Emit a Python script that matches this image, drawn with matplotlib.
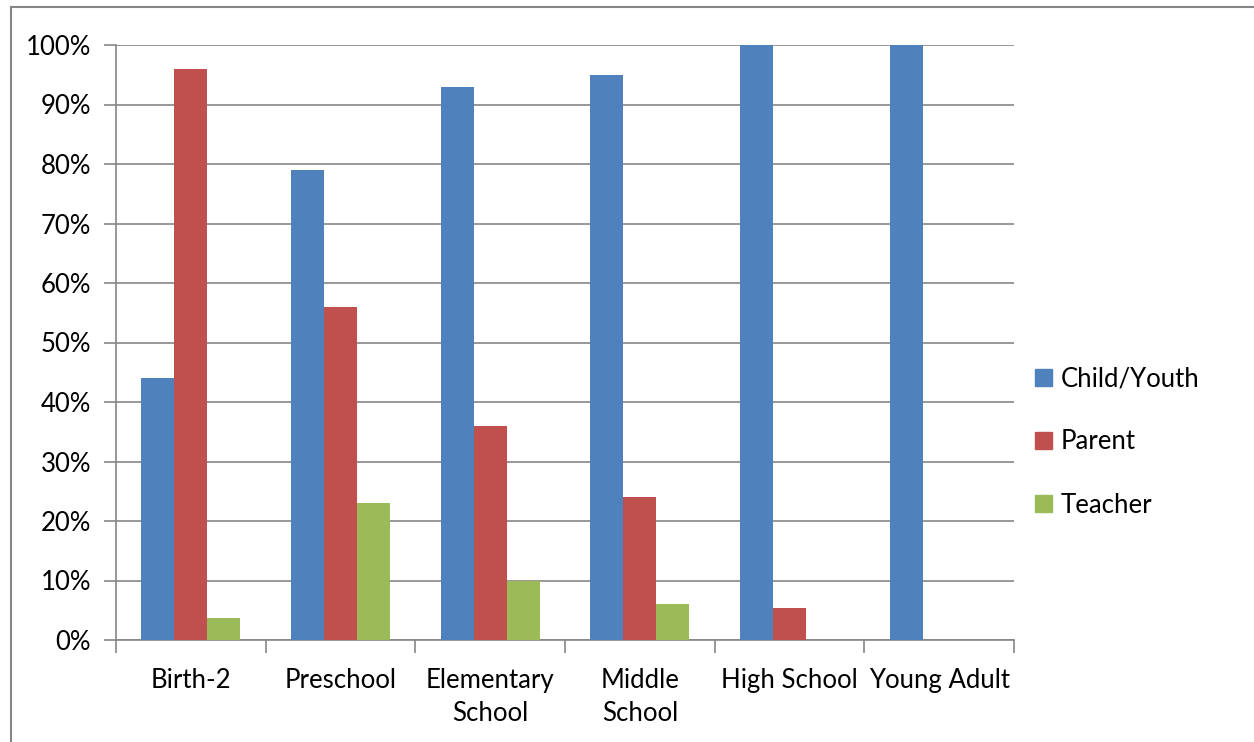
import matplotlib
matplotlib.use("Agg")
import matplotlib.pyplot as plt
import numpy as np
from matplotlib.lines import Line2D
from matplotlib.ticker import FuncFormatter

plt.rcParams['font.family'] = ['Lato', 'DejaVu Sans']

categories = ["Birth-2", "Preschool", "Elementary\nSchool", "Middle\nSchool", "High School", "Young Adult"]
child_youth = [44, 79, 93, 95, 100, 100]
parent = [96, 56, 36, 24, 5.4, 0]
teacher = [3.7, 23, 10, 6, 0, 0]
series_names = ["Child/Youth", "Parent", "Teacher"]
colors = ["#4F81BD", "#C0504D", "#9BBB59"]

W, H = 1254, 742
FS = 18.5
fig = plt.figure(figsize=(W / 100, H / 100), dpi=100)
ax = fig.add_axes([116 / W, 1 - 640 / H, (1014 - 116) / W, (640 - 45) / H])

x = np.arange(len(categories))
bw = 0.22
for i, (vals, name, c) in enumerate(zip([child_youth, parent, teacher], series_names, colors)):
    ax.bar(x + (i - 1) * bw, vals, width=bw, color=c, label=name, zorder=3)

ax.set_xlim(-0.5, len(categories) - 0.5)
ax.set_ylim(0, 100)
ax.set_yticks(np.arange(0, 101, 10))
ax.yaxis.set_major_formatter(FuncFormatter(lambda v, p: f"{int(v)}%"))
ax.grid(axis='y', color='#868686', linewidth=1.2, zorder=0)
ax.set_axisbelow(True)

for s in ['top', 'right']:
    ax.spines[s].set_visible(False)
for s in ['left', 'bottom']:
    ax.spines[s].set_color('#868686')
    ax.spines[s].set_linewidth(1.2)

ax.set_xticks(x)
ax.set_xticklabels(categories, fontsize=FS, linespacing=1.42)
ax.tick_params(axis='x', length=0, pad=20)
ax.set_xticks(np.arange(-0.5, len(categories), 1), minor=True)
ax.tick_params(axis='x', which='minor', length=9, color='#868686', width=1.2)
ax.tick_params(axis='y', length=9, color='#868686', width=1.2, labelsize=FS, pad=9)

handles = [plt.Rectangle((0, 0), 1, 1, color=c) for c in colors]
leg = fig.legend(handles, series_names, loc='center left',
                 bbox_to_anchor=(1035 / W, 1 - 442 / H), frameon=False,
                 fontsize=FS, handlelength=0.65, handleheight=0.65,
                 handletextpad=0.35, labelspacing=1.48, borderaxespad=0,
                 borderpad=0)

# figure border (top and left visible)
fig.add_artist(Line2D([11 / W, 1], [1 - 7 / H, 1 - 7 / H], color='#868686', linewidth=1.5, transform=fig.transFigure))
fig.add_artist(Line2D([11 / W, 11 / W], [0, 1 - 7 / H], color='#868686', linewidth=1.5, transform=fig.transFigure))

fig.savefig("out.png", dpi=100)
